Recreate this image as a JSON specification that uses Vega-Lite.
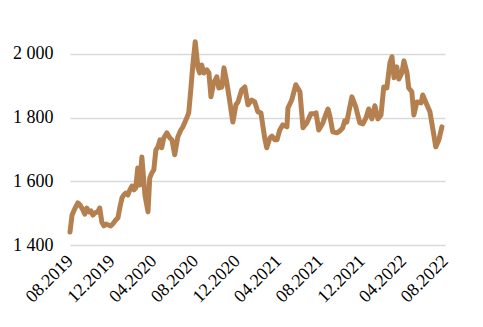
{
  "$schema": "https://vega.github.io/schema/vega-lite/v6.json",
  "width": 375,
  "height": 223,
  "autosize": {"type": "none"},
  "padding": {"left": 70, "top": 22, "right": 38, "bottom": 82},
  "background": "white",
  "config": {"view": {"stroke": null}, "font": "Liberation Serif"},
  "data": {"values": [
    {"date": "2019-08-01", "price": 1441},
    {"date": "2019-08-07", "price": 1494},
    {"date": "2019-08-16", "price": 1516},
    {"date": "2019-08-24", "price": 1532},
    {"date": "2019-08-30", "price": 1526},
    {"date": "2019-09-08", "price": 1510},
    {"date": "2019-09-13", "price": 1497},
    {"date": "2019-09-19", "price": 1516},
    {"date": "2019-09-25", "price": 1504},
    {"date": "2019-10-01", "price": 1507},
    {"date": "2019-10-07", "price": 1494},
    {"date": "2019-10-13", "price": 1501},
    {"date": "2019-10-21", "price": 1504},
    {"date": "2019-10-27", "price": 1516},
    {"date": "2019-11-02", "price": 1472},
    {"date": "2019-11-08", "price": 1460},
    {"date": "2019-11-14", "price": 1466},
    {"date": "2019-11-20", "price": 1463},
    {"date": "2019-11-28", "price": 1460},
    {"date": "2019-12-04", "price": 1466},
    {"date": "2019-12-13", "price": 1479},
    {"date": "2019-12-19", "price": 1485},
    {"date": "2019-12-25", "price": 1519},
    {"date": "2019-12-31", "price": 1548},
    {"date": "2020-01-05", "price": 1557},
    {"date": "2020-01-11", "price": 1563},
    {"date": "2020-01-17", "price": 1557},
    {"date": "2020-01-23", "price": 1573},
    {"date": "2020-01-29", "price": 1585},
    {"date": "2020-02-04", "price": 1573},
    {"date": "2020-02-09", "price": 1579},
    {"date": "2020-02-15", "price": 1642},
    {"date": "2020-02-21", "price": 1588},
    {"date": "2020-02-27", "price": 1676},
    {"date": "2020-03-07", "price": 1557},
    {"date": "2020-03-16", "price": 1504},
    {"date": "2020-03-21", "price": 1610},
    {"date": "2020-03-27", "price": 1626},
    {"date": "2020-04-02", "price": 1636},
    {"date": "2020-04-08", "price": 1698},
    {"date": "2020-04-14", "price": 1708},
    {"date": "2020-04-20", "price": 1730},
    {"date": "2020-04-25", "price": 1705},
    {"date": "2020-05-01", "price": 1736},
    {"date": "2020-05-10", "price": 1752},
    {"date": "2020-05-19", "price": 1736},
    {"date": "2020-05-25", "price": 1730},
    {"date": "2020-06-02", "price": 1683},
    {"date": "2020-06-11", "price": 1739},
    {"date": "2020-06-20", "price": 1761},
    {"date": "2020-06-26", "price": 1771},
    {"date": "2020-07-05", "price": 1793},
    {"date": "2020-07-13", "price": 1815},
    {"date": "2020-07-19", "price": 1887},
    {"date": "2020-07-25", "price": 1965},
    {"date": "2020-08-01", "price": 2038},
    {"date": "2020-08-09", "price": 1956},
    {"date": "2020-08-14", "price": 1940},
    {"date": "2020-08-20", "price": 1965},
    {"date": "2020-08-26", "price": 1940},
    {"date": "2020-09-04", "price": 1950},
    {"date": "2020-09-10", "price": 1940},
    {"date": "2020-09-16", "price": 1865},
    {"date": "2020-09-24", "price": 1909},
    {"date": "2020-10-03", "price": 1928},
    {"date": "2020-10-09", "price": 1893},
    {"date": "2020-10-18", "price": 1896},
    {"date": "2020-10-24", "price": 1956},
    {"date": "2020-11-01", "price": 1912},
    {"date": "2020-11-07", "price": 1871},
    {"date": "2020-11-19", "price": 1786},
    {"date": "2020-11-28", "price": 1840},
    {"date": "2020-12-04", "price": 1849},
    {"date": "2020-12-15", "price": 1887},
    {"date": "2020-12-24", "price": 1896},
    {"date": "2021-01-02", "price": 1840},
    {"date": "2021-01-13", "price": 1855},
    {"date": "2021-01-22", "price": 1849},
    {"date": "2021-01-31", "price": 1818},
    {"date": "2021-02-09", "price": 1815},
    {"date": "2021-02-20", "price": 1736},
    {"date": "2021-02-26", "price": 1705},
    {"date": "2021-03-07", "price": 1736},
    {"date": "2021-03-13", "price": 1742},
    {"date": "2021-03-22", "price": 1730},
    {"date": "2021-03-28", "price": 1730},
    {"date": "2021-04-05", "price": 1761},
    {"date": "2021-04-14", "price": 1777},
    {"date": "2021-04-26", "price": 1771},
    {"date": "2021-04-29", "price": 1830},
    {"date": "2021-05-10", "price": 1855},
    {"date": "2021-05-22", "price": 1903},
    {"date": "2021-06-03", "price": 1881},
    {"date": "2021-06-12", "price": 1768},
    {"date": "2021-06-23", "price": 1783},
    {"date": "2021-07-05", "price": 1812},
    {"date": "2021-07-17", "price": 1812},
    {"date": "2021-07-20", "price": 1815},
    {"date": "2021-07-28", "price": 1761},
    {"date": "2021-08-09", "price": 1783},
    {"date": "2021-08-15", "price": 1802},
    {"date": "2021-08-24", "price": 1827},
    {"date": "2021-08-30", "price": 1802},
    {"date": "2021-09-07", "price": 1755},
    {"date": "2021-09-19", "price": 1752},
    {"date": "2021-09-28", "price": 1758},
    {"date": "2021-10-06", "price": 1768},
    {"date": "2021-10-12", "price": 1790},
    {"date": "2021-10-18", "price": 1786},
    {"date": "2021-10-24", "price": 1818},
    {"date": "2021-11-02", "price": 1865},
    {"date": "2021-11-13", "price": 1834},
    {"date": "2021-11-25", "price": 1783},
    {"date": "2021-12-04", "price": 1780},
    {"date": "2021-12-13", "price": 1799},
    {"date": "2021-12-21", "price": 1827},
    {"date": "2021-12-30", "price": 1796},
    {"date": "2022-01-08", "price": 1837},
    {"date": "2022-01-17", "price": 1796},
    {"date": "2022-01-26", "price": 1808},
    {"date": "2022-02-03", "price": 1896},
    {"date": "2022-02-12", "price": 1893},
    {"date": "2022-02-21", "price": 1972},
    {"date": "2022-02-27", "price": 1991},
    {"date": "2022-03-05", "price": 1925},
    {"date": "2022-03-13", "price": 1959},
    {"date": "2022-03-19", "price": 1921},
    {"date": "2022-03-28", "price": 1940},
    {"date": "2022-04-03", "price": 1978},
    {"date": "2022-04-12", "price": 1940},
    {"date": "2022-04-17", "price": 1893},
    {"date": "2022-04-26", "price": 1881},
    {"date": "2022-05-02", "price": 1808},
    {"date": "2022-05-11", "price": 1849},
    {"date": "2022-05-23", "price": 1846},
    {"date": "2022-05-28", "price": 1871},
    {"date": "2022-06-09", "price": 1840},
    {"date": "2022-06-18", "price": 1818},
    {"date": "2022-06-27", "price": 1761},
    {"date": "2022-07-05", "price": 1708},
    {"date": "2022-07-14", "price": 1730},
    {"date": "2022-07-23", "price": 1771}
  ]},
  "mark": {"type": "line", "color": "#b5804f", "strokeWidth": 5, "strokeJoin": "round", "strokeCap": "round", "clip": false},
  "encoding": {
    "x": {
      "field": "date", "type": "temporal",
      "scale": {"type": "utc", "domain": [{"year": 2019, "month": 8, "date": 1, "utc": true}, {"year": 2022, "month": 8, "date": 1, "utc": true}]},
      "axis": {
        "title": null, "grid": false, "domain": false, "ticks": false,
        "values": [
          {"year": 2019, "month": 8, "date": 1, "utc": true},
          {"year": 2019, "month": 12, "date": 1, "utc": true},
          {"year": 2020, "month": 4, "date": 1, "utc": true},
          {"year": 2020, "month": 8, "date": 1, "utc": true},
          {"year": 2020, "month": 12, "date": 1, "utc": true},
          {"year": 2021, "month": 4, "date": 1, "utc": true},
          {"year": 2021, "month": 8, "date": 1, "utc": true},
          {"year": 2021, "month": 12, "date": 1, "utc": true},
          {"year": 2022, "month": 4, "date": 1, "utc": true},
          {"year": 2022, "month": 8, "date": 1, "utc": true}
        ],
        "labelExpr": "utcFormat(datum.value, '%m.%Y')",
        "labelAngle": -45, "labelAlign": "right", "labelBaseline": "middle",
        "labelFont": "Liberation Serif", "labelFontSize": 18, "labelColor": "#000000",
        "labelPadding": 13, "labelOverlap": false, "labelFlush": false, "labelBound": false
      }
    },
    "y": {
      "field": "price", "type": "quantitative",
      "scale": {"domain": [1400, 2100], "nice": false, "zero": false},
      "axis": {
        "title": null, "domain": false, "ticks": false,
        "values": [1400, 1600, 1800, 2000],
        "labelExpr": "replace(format(datum.value, ','), ',', ' ')",
        "labelFont": "Liberation Serif", "labelFontSize": 18, "labelColor": "#000000",
        "labelPadding": 17,
        "grid": true, "gridColor": "#d9d9d9", "gridWidth": 1.5
      }
    }
  }
}
